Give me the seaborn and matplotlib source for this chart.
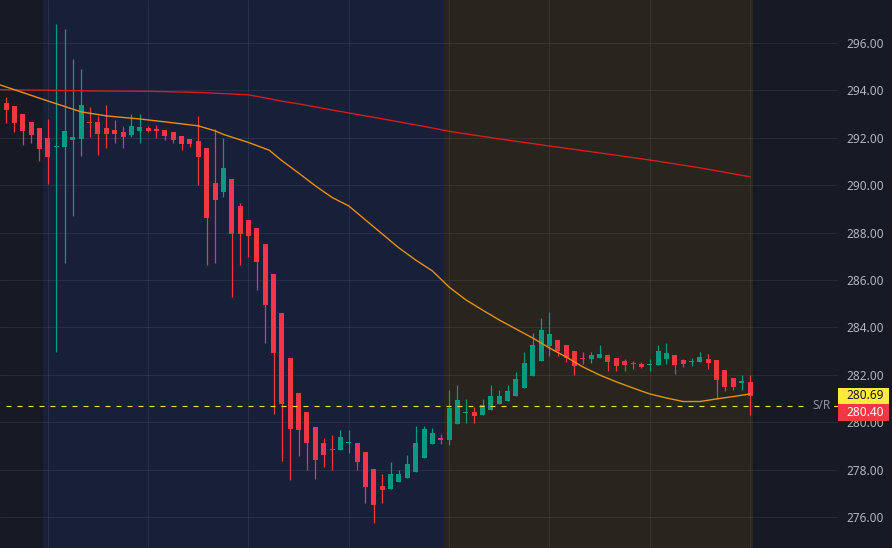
import numpy as np
import pandas as pd
import seaborn as sns
import matplotlib.pyplot as plt
import matplotlib.transforms as mtransforms
from matplotlib.patches import Rectangle

# candle index -1 is the half-hidden one on the left edge
opens = [
    293.22,
    293.46, 293.34, 293.00, 292.67, 292.41, 291.99, 291.60, 291.59, 291.92, 291.96,
    292.67, 292.67, 292.41, 292.33, 292.24, 292.12, 292.27, 292.43, 292.38, 292.33,
    292.24, 292.08, 291.95, 291.87, 291.57, 290.09, 289.73, 290.26, 289.13, 288.54,
    288.20, 287.52, 286.25, 284.60, 282.71, 281.24, 280.43, 279.79, 279.12, 278.88,
    278.84, 279.11, 279.12, 278.74, 278.03, 277.31, 277.19, 277.49, 277.66, 277.91,
    278.50, 279.09, 279.33, 279.26, 279.94, 280.39, 280.43, 280.32, 280.53, 280.78,
    280.91, 281.12, 281.46, 281.96, 282.59, 283.23, 283.47, 283.26, 283.00, 282.72,
    282.67, 282.72, 282.84, 282.71, 282.58, 282.50, 282.46, 282.41, 282.41, 282.67,
    282.84, 282.62, 282.54, 282.54, 282.67, 282.62, 282.20, 281.87, 281.65, 281.70,
]
closes = [
    293.68,
    293.17, 292.64, 292.30, 292.13, 291.54, 291.20, 291.64, 292.29, 292.03, 293.39,
    292.63, 292.16, 292.16, 292.16, 292.03, 292.50, 292.46, 292.29, 292.29, 292.09,
    291.92, 291.75, 291.75, 291.20, 288.63, 289.39, 290.73, 287.95, 287.95, 287.86,
    286.77, 284.95, 282.93, 280.78, 279.72, 279.65, 279.13, 278.42, 278.63, 278.84,
    279.38, 279.16, 278.33, 277.28, 276.52, 277.15, 277.81, 277.81, 278.24, 279.12,
    279.71, 279.54, 279.23, 280.60, 280.94, 280.43, 280.27, 280.73, 281.11, 281.11,
    281.32, 281.82, 282.50, 283.26, 283.89, 283.72, 283.02, 282.72, 282.38, 282.68,
    282.84, 282.88, 282.54, 282.37, 282.41, 282.46, 282.33, 282.46, 283.00, 282.92,
    282.41, 282.46, 282.58, 282.75, 282.50, 281.78, 281.49, 281.49, 281.74, 281.11,
]
highs = [
    293.72,
    293.71, 293.34, 293.00, 292.67, 292.41, 292.79, 296.78, 296.59, 295.31, 294.91,
    293.29, 292.92, 293.38, 292.75, 292.50, 293.00, 293.00, 292.50, 292.54, 292.33,
    292.24, 292.08, 291.95, 292.92, 291.57, 292.37, 291.98, 290.26, 289.25, 288.54,
    288.20, 287.52, 286.25, 284.60, 282.71, 281.24, 280.43, 279.79, 279.33, 279.46,
    279.67, 279.67, 279.12, 278.74, 278.03, 277.81, 278.32, 278.00, 278.62, 279.84,
    279.84, 279.76, 279.50, 281.36, 281.57, 280.98, 280.64, 280.98, 281.57, 281.36,
    281.57, 282.12, 282.96, 283.76, 284.40, 284.65, 283.47, 283.26, 283.00, 282.96,
    282.96, 283.26, 282.88, 282.71, 282.67, 282.58, 282.54, 282.67, 283.26, 283.34,
    282.84, 282.67, 282.71, 282.96, 282.88, 282.62, 282.20, 281.87, 281.99, 281.99,
]
lows = [
    293.15,
    292.64, 292.22, 291.68, 291.79, 291.03, 290.03, 282.95, 286.72, 288.71, 291.21,
    292.05, 291.29, 291.57, 291.77, 291.57, 292.03, 291.78, 292.22, 292.00, 291.91,
    291.79, 291.50, 291.62, 290.02, 286.65, 286.71, 289.51, 285.30, 286.61, 286.97,
    285.59, 283.32, 280.35, 278.38, 277.54, 278.58, 277.99, 277.61, 278.12, 278.00,
    278.84, 278.71, 278.00, 276.60, 275.76, 276.60, 277.19, 277.49, 277.66, 277.91,
    278.50, 279.09, 279.06, 279.04, 279.94, 279.98, 279.98, 280.32, 280.53, 280.78,
    280.91, 281.12, 281.46, 281.96, 282.59, 282.81, 282.81, 282.55, 282.00, 282.47,
    282.50, 282.72, 282.16, 282.16, 282.16, 282.25, 282.29, 282.16, 282.41, 282.46,
    282.03, 282.33, 282.37, 282.54, 282.25, 280.98, 281.32, 281.36, 281.36, 280.30,
]

# moving averages, read at a set of bar positions
ma_fast_x = [-0.72, 5, 9, 12, 16, 19, 23, 25, 26, 29, 31.5, 33, 35, 37, 39, 41, 43, 45, 47, 49,
             51, 53, 55, 57, 59, 61, 63, 65, 67, 69, 71, 73, 75, 77, 79, 81, 83, 85, 87, 89]
ma_fast = [294.23, 293.55, 293.09, 292.92, 292.79, 292.67, 292.50, 292.29, 292.14, 291.80,
           291.47, 291.03, 290.51, 289.97, 289.48, 289.12, 288.53, 287.94, 287.35, 286.84,
           286.38, 285.70, 285.16, 284.73, 284.31, 283.93, 283.55, 283.13, 282.75, 282.33,
           281.99, 281.70, 281.44, 281.19, 281.02, 280.87, 280.87, 280.98, 281.08, 281.19]
ma_slow_x = [-0.72, 5, 11, 17, 23, 26, 29, 31, 33, 35, 39, 43, 47, 51, 53, 59, 65, 71, 77, 83, 89]
ma_slow = [294.03, 294.00, 293.97, 293.96, 293.91, 293.86, 293.81, 293.68, 293.54, 293.43,
           293.17, 292.92, 292.67, 292.41, 292.27, 291.95, 291.65, 291.36, 291.06, 290.73, 290.35]

sr_level = 280.69
last_price = 280.40
price_ticks = np.arange(276, 297, 2)

BG = "#161a25"
UP = "#089981"
DOWN = "#f23645"

sns.set_theme(style="dark", rc={"axes.facecolor": BG, "figure.facecolor": BG})
plt.rcParams['font.family'] = ['Noto Sans', 'DejaVu Sans']

df = pd.DataFrame({"idx": np.arange(-1, len(opens) - 1), "open": opens, "high": highs,
                   "low": lows, "close": closes})
df["up"] = df["close"] >= df["open"]
colors = np.where(df["up"], UP, DOWN)
body_bottom = df[["open", "close"]].min(axis=1)
body_h = (df["close"] - df["open"]).abs().clip(lower=0.045)

fig = plt.figure(figsize=(8.92, 5.48), dpi=100)
ax = fig.add_axes([0, 0, 838 / 892, 1])

# session shading
ax.axvspan(4.43, 52.45, color="#181f38", lw=0, zorder=0)
ax.axvspan(52.45, 89.35, color="#28251f", lw=0, zorder=0)

ax.vlines(df["idx"], df["low"], df["high"], colors=colors, lw=0.9, zorder=3)
ax.bar(df["idx"], body_h, bottom=body_bottom, width=0.6, color=colors, lw=0, zorder=4)

sns.lineplot(x=ma_slow_x, y=ma_slow, ax=ax, color="#d71c1c", lw=1.0, zorder=5)
sns.lineplot(x=ma_fast_x, y=ma_fast, ax=ax, color="#e8900c", lw=1.0, zorder=5)

# S/R dashed level
ax.plot([0, 95.6], [sr_level, sr_level], color="#f2e04a", lw=0.8, dashes=(4.5, 5.4), zorder=6)
ax.plot([99.05, 99.52], [sr_level, sr_level], color="#f2e04a", lw=0.8, zorder=6)
ax.text(98.65, sr_level, "S/R", color="#8f929b", fontsize=8.5, ha="right", va="center", zorder=6)

ax.set_xlim(-0.72, 99.52)
ax.set_ylim(274.69, 297.81)
ax.set_xticks(range(5, 90, 12))
ax.set_yticks(price_ticks)
ax.set_yticklabels([f"{v:.2f}" for v in price_ticks])
ax.yaxis.tick_right()
ax.tick_params(axis="x", labelbottom=False, length=0)
ax.tick_params(axis="y", length=0, pad=5.8, labelsize=8.5, labelcolor="#b2b5be")
ax.grid(True, color="white", alpha=0.07, lw=0.8)
ax.set_axisbelow(True)
for s in ax.spines.values():
    s.set_visible(False)

# price tags on the scale
trans = mtransforms.blended_transform_factory(ax.transAxes, ax.transData)
tag_h = 0.705
tags = [(last_price, DOWN, "white", f"{last_price:.2f}"),
        (last_price + tag_h, "#ffeb3b", "#131722", f"{sr_level:.2f}")]
for center, fc, tc, label in tags:
    ax.add_patch(Rectangle((1.0, center - tag_h / 2), 0.0609, tag_h, transform=trans,
                           facecolor=fc, edgecolor="none", clip_on=False, zorder=7))
    ax.text(1.0095, center, label, transform=trans, color=tc, fontsize=8.5,
            ha="left", va="center", clip_on=False, zorder=8)

fig.savefig("out.png", dpi=100)
